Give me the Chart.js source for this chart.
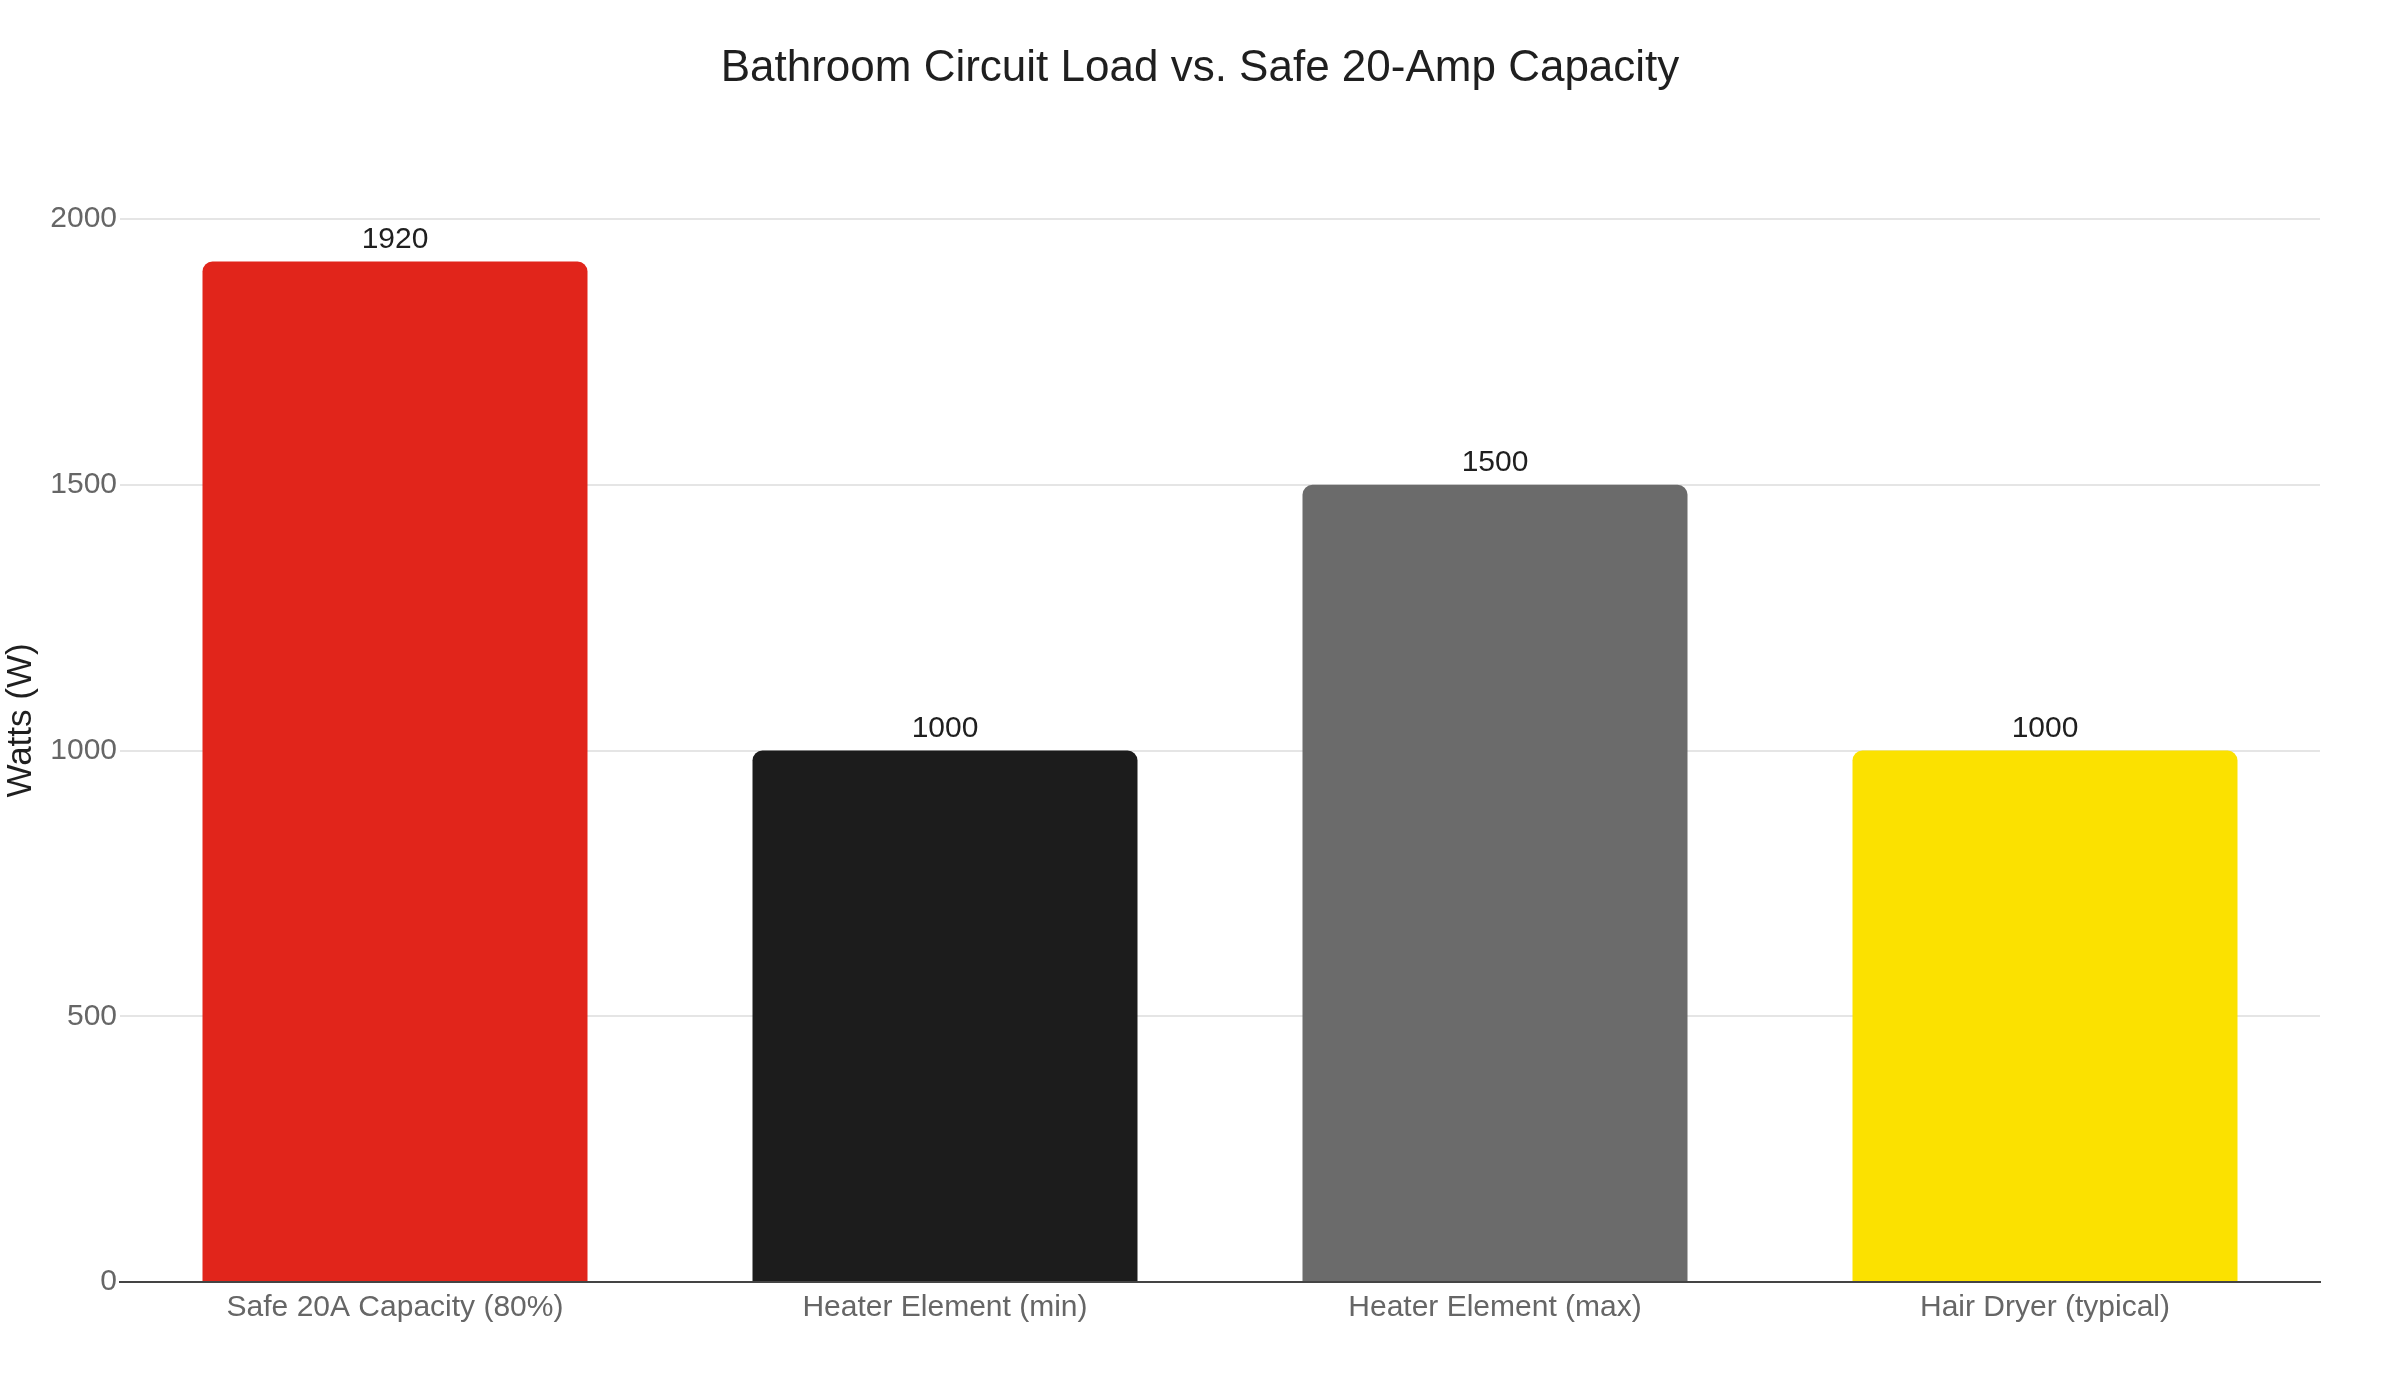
<!DOCTYPE html>
<html>
<head>
<meta charset="utf-8">
<title>Bathroom Circuit Load vs. Safe 20-Amp Capacity</title>
<script src="https://cdn.jsdelivr.net/npm/chart.js@4.4.1/dist/chart.umd.min.js"></script>
<style>
  html, body { margin: 0; padding: 0; background: #fff; }
  canvas { display: block; }
</style>
</head>
<body>
<canvas id="myChart" width="2400" height="1400"></canvas>
<script>
// Data
var xValues = ["Safe 20A Capacity (80%)", "Heater Element (min)", "Heater Element (max)", "Hair Dryer (typical)"];
var yValues = [1920, 1000, 1500, 1000];
var barColors = ["#e1251b", "#1c1c1c", "#6b6b6b", "#fbe100"];
var yTicks = [0, 500, 1000, 1500, 2000];
var chartTitle = "Bathroom Circuit Load vs. Safe 20-Amp Capacity";
var yTitle = "Watts (W)";

var fontFamily = "'Liberation Sans', Arial, Helvetica, sans-serif";

// value labels above each bar, plus chart title (centred on the page)
// and the y axis title (sits a bit above the middle of the plot)
var extraText = {
  id: "extraText",
  afterDatasetsDraw: function(chart) {
    var ctx = chart.ctx;
    var meta = chart.getDatasetMeta(0);
    ctx.save();
    ctx.fillStyle = "#1f1f1f";
    ctx.textAlign = "center";
    ctx.textBaseline = "middle";

    ctx.font = "30px " + fontFamily;
    meta.data.forEach(function(bar, i) {
      ctx.fillText(String(yValues[i]), bar.x, bar.y - 22);
    });

    ctx.font = "44px " + fontFamily;
    ctx.fillText(chartTitle, chart.width / 2, 69);

    var area = chart.chartArea;
    ctx.translate(21, (area.top + area.bottom) / 2 - 30);
    ctx.rotate(-Math.PI / 2);
    ctx.font = "35px " + fontFamily;
    ctx.fillText(yTitle, 0, 0);
    ctx.restore();
  }
};

Chart.defaults.font.family = fontFamily;

new Chart("myChart", {
  type: "bar",
  data: {
    labels: xValues,
    datasets: [{
      backgroundColor: barColors,
      data: yValues,
      barPercentage: 0.7,
      categoryPercentage: 1.0,
      borderRadius: { topLeft: 10, topRight: 10, bottomLeft: 0, bottomRight: 0 }
    }]
  },
  plugins: [extraText],
  options: {
    responsive: false,
    devicePixelRatio: 1,
    animation: false,
    layout: {
      padding: { left: 0, right: 80, top: 219, bottom: 74 }
    },
    scales: {
      x: {
        z: 1,
        grid: { display: false },
        border: { display: true, color: "#444444", width: 2 },
        ticks: { color: "#666666", font: { size: 30 }, padding: 0 }
      },
      y: {
        min: yTicks[0],
        max: yTicks[yTicks.length - 1],
        afterBuildTicks: function(axis) {
          axis.ticks = yTicks.map(function(v) { return { value: v }; });
        },
        afterFit: function(axis) {
          axis.width = 120;
        },
        grid: { color: "#e5e5e5", lineWidth: 2, drawTicks: false },
        border: { display: false },
        ticks: {
          color: "#666666",
          font: { size: 30 },
          padding: 3,
          callback: function(v) { return String(v); }
        }
      }
    },
    plugins: {
      legend: { display: false },
      tooltip: { enabled: false },
      title: { display: false }
    }
  }
});
</script>
</body>
</html>
